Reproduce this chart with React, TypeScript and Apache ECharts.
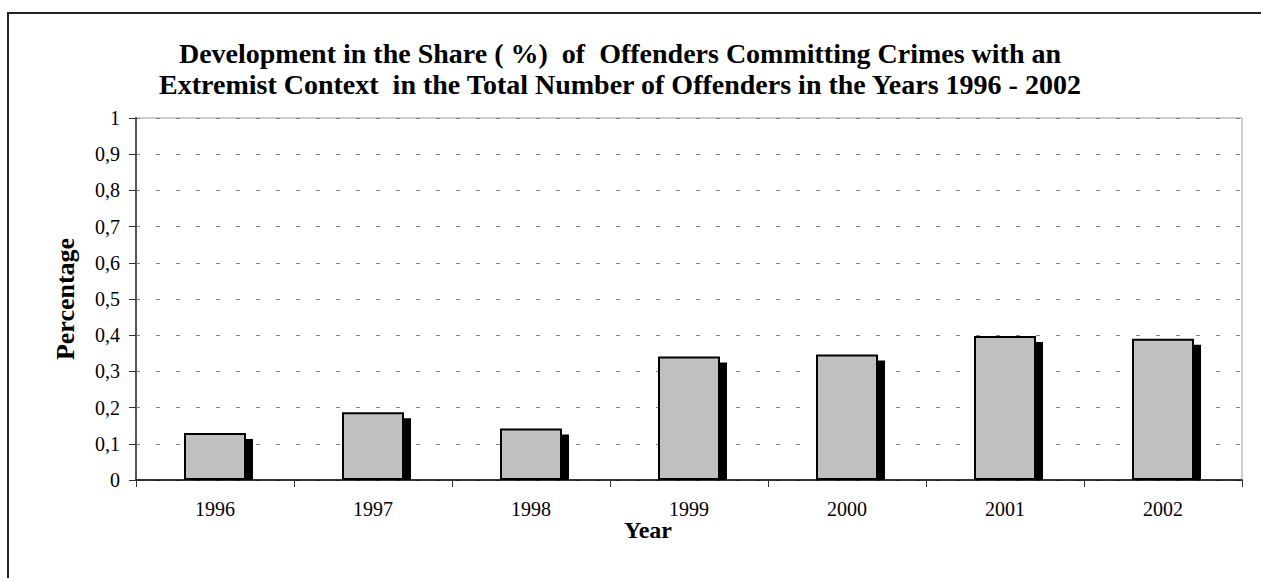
import React, { useEffect, useRef } from "react";
import * as echarts from "echarts";

const years = ["1996", "1997", "1998", "1999", "2000", "2001", "2002"];
const shares = [0.13, 0.187, 0.142, 0.341, 0.347, 0.398, 0.39];
const titleLines = [
  "Development in the Share ( %)  of  Offenders Committing Crimes with an",
  "Extremist Context  in the Total Number of Offenders in the Years 1996 - 2002",
];
const xName = "Year";
const yName = "Percentage";

const FONT = "'Liberation Serif', 'Times New Roman', serif";
const BAR_W = 62;

export default function App() {
  const ref = useRef<HTMLDivElement>(null);
  useEffect(() => {
    if (!ref.current) return;
    const chart = echarts.init(ref.current, undefined, { renderer: "svg" });
    chart.setOption({
      animation: false,
      backgroundColor: "#fff",
      grid: {
        left: 136,
        top: 118,
        right: 19,
        bottom: 98,
        show: true,
        borderColor: "#a0a0a0",
        borderWidth: 1,
      },
      graphic: [
        {
          type: "rect",
          z: -10,
          shape: { x: 8, y: 13, width: 1270, height: 600 },
          style: { fill: "none", stroke: "#222", lineWidth: 2 },
        },
        {
          type: "text",
          x: 620,
          y: 53,
          style: {
            text: titleLines[0],
            align: "center",
            verticalAlign: "middle",
            font: `bold 28px ${FONT}`,
            fill: "#000",
          },
        },
        {
          type: "text",
          x: 620,
          y: 84,
          style: {
            text: titleLines[1],
            align: "center",
            verticalAlign: "middle",
            font: `bold 28px ${FONT}`,
            fill: "#000",
          },
        },
        {
          type: "text",
          x: 648,
          y: 530,
          style: {
            text: xName,
            align: "center",
            verticalAlign: "middle",
            font: `bold 24px ${FONT}`,
            fill: "#000",
          },
        },
      ],
      xAxis: {
        type: "category",
        data: years,
        axisLine: { lineStyle: { color: "#000", width: 1.5 } },
        axisTick: {
          show: true,
          inside: false,
          length: 7,
          lineStyle: { color: "#333", width: 1 },
        },
        axisLabel: {
          color: "#000",
          fontFamily: FONT,
          fontSize: 20,
          margin: 19,
        },
        splitLine: { show: false },
      },
      yAxis: {
        type: "value",
        min: 0,
        max: 1,
        interval: 0.1,
        name: yName,
        nameLocation: "middle",
        nameGap: 58,
        nameTextStyle: {
          fontFamily: FONT,
          fontSize: 26,
          fontWeight: "bold",
          color: "#000",
        },
        axisLine: { show: true, lineStyle: { color: "#555", width: 2 } },
        axisTick: { show: true, length: 7, lineStyle: { color: "#333", width: 1 } },
        axisLabel: {
          color: "#000",
          fontFamily: FONT,
          fontSize: 20,
          margin: 16,
          formatter: (v: number) =>
            v === 0 ? "0" : v === 1 ? "1" : v.toFixed(1).replace(".", ","),
        },
        splitLine: {
          show: true,
          lineStyle: { color: "#808080", width: 1, type: [4, 16] },
        },
      },
      series: [
        {
          type: "custom",
          z: 1,
          data: shares.map((v, i) => [i, v]),
          encode: { x: 0, y: 1 },
          renderItem: (params: any, api: any) => {
            const top = api.coord([api.value(0), api.value(1)]);
            const base = api.coord([api.value(0), 0]);
            return {
              type: "rect",
              shape: {
                x: top[0] - BAR_W / 2 - 1 + 6,
                y: top[1] + 6,
                width: BAR_W + 2,
                height: base[1] - top[1] - 6,
              },
              style: { fill: "#000" },
            };
          },
        },
        {
          type: "bar",
          z: 2,
          data: shares,
          barWidth: BAR_W,
          itemStyle: {
            color: "#c0c0c0",
            borderColor: "#000",
            borderWidth: 2,
          },
        },
      ],
    });
    return () => chart.dispose();
  }, []);
  return (
    <div
      ref={ref}
      style={{ position: "absolute", left: 0, top: 0, width: 1261, height: 578 }}
    />
  );
}
